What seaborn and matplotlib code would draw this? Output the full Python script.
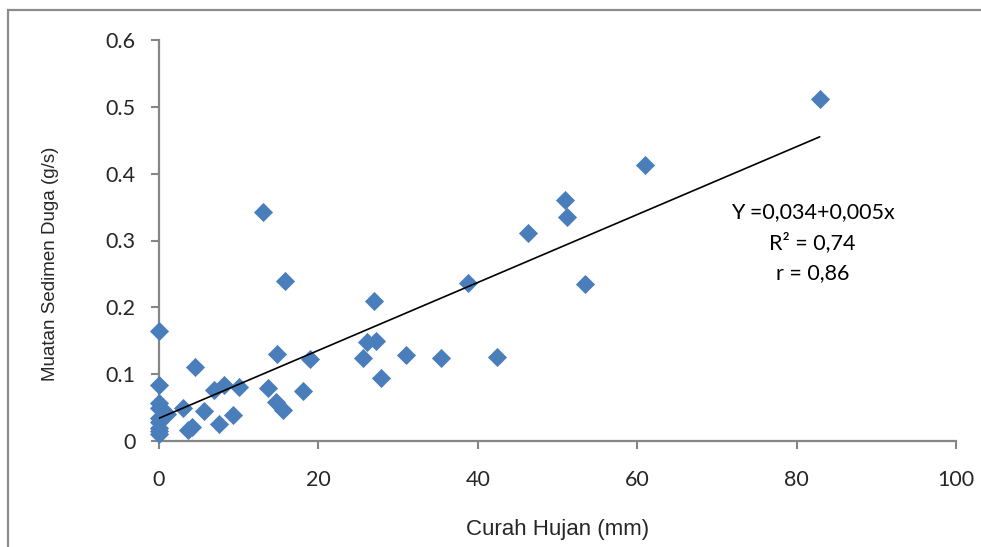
import matplotlib
matplotlib.use("Agg")
import matplotlib.pyplot as plt
import matplotlib.patches as mpatches
import numpy as np
import pandas as pd
import seaborn as sns

# Data
curah_hujan = [0, 0, 0, 0, 0.5, 1.0, 0, 0, 0, 0, 0,
               3.0, 3.6, 4.2, 4.5, 5.6, 6.9, 8.1, 7.5, 9.3, 10.0,
               13.0, 13.7, 14.7, 14.8, 15.6, 15.8, 18.1, 18.9,
               25.6, 26.1, 27.2, 27.0, 27.9, 31.0, 35.4, 38.8, 42.4,
               46.3, 50.9, 51.2, 53.5, 61.0, 82.9]
muatan_sedimen = [0.164, 0.084, 0.057, 0.050, 0.045, 0.040, 0.034, 0.028, 0.020, 0.015, 0.010,
                  0.049, 0.016, 0.021, 0.110, 0.045, 0.077, 0.084, 0.025, 0.039, 0.081,
                  0.343, 0.080, 0.058, 0.130, 0.046, 0.239, 0.075, 0.123,
                  0.124, 0.148, 0.150, 0.209, 0.094, 0.129, 0.124, 0.236, 0.126,
                  0.311, 0.361, 0.335, 0.235, 0.413, 0.512]

# Trend line as displayed
intercept = 0.034
slope = 0.00508
annotation_lines = ["Y =0,034+0,005x", "R\u00b2 = 0,74", "r = 0,86"]

x_ticks = [0, 20, 40, 60, 80, 100]
y_ticks = [0, 0.1, 0.2, 0.3, 0.4, 0.5, 0.6]
y_ticklabels = ["0", "0.1", "0.2", "0.3", "0.4", "0.5", "0.6"]

df = pd.DataFrame({"Curah Hujan (mm)": curah_hujan,
                   "Muatan Sedimen Duga (g/s)": muatan_sedimen})

sns.set_style("white")
plt.rcParams["font.family"] = ["Lato", "DejaVu Sans"]

fig = plt.figure(figsize=(9.81, 5.47), dpi=100)
ax = fig.add_axes([159 / 981, 1 - 441 / 547, (956 - 159) / 981, (441 - 40) / 547])

sns.scatterplot(data=df, x="Curah Hujan (mm)", y="Muatan Sedimen Duga (g/s)",
                marker="D", s=95, color="#4A7EBB", linewidth=0, ax=ax,
                zorder=3, clip_on=False)

xl = np.array([0, max(curah_hujan)])
ax.plot(xl, intercept + slope * xl, color="black", lw=1.2, zorder=4)

for i, t in enumerate(annotation_lines):
    ax.text(82.0, 0.343 - i * 0.0462, t, ha="center", va="center",
            fontsize=15.5, color="black", zorder=5)

ax.set_xlim(0, 100)
ax.set_ylim(0, 0.6)
ax.set_xticks(x_ticks)
ax.set_xticklabels([str(v) for v in x_ticks])
ax.set_yticks(y_ticks)
ax.set_yticklabels(y_ticklabels)
ax.tick_params(axis="x", direction="out", length=6, width=1.5, color="#868686",
               pad=15, labelsize=15.5)
ax.tick_params(axis="y", direction="out", length=6, width=1.5, color="#868686",
               pad=11, labelsize=15.5)
ax.tick_params(bottom=True, left=True)

for s in ["top", "right"]:
    ax.spines[s].set_visible(False)
for s in ["left", "bottom"]:
    ax.spines[s].set_color("#868686")
    ax.spines[s].set_linewidth(1.6)

ax.set_xlabel("Curah Hujan (mm)", fontsize=16, family=["Liberation Sans", "DejaVu Sans"])
ax.set_ylabel("Muatan Sedimen Duga (g/s)", fontsize=13.5, family=["Liberation Sans", "DejaVu Sans"])
ax.xaxis.set_label_coords(0.5, -0.195)
ax.yaxis.set_label_coords(-0.126, 0.441)

# outer chart border
fig.patches.append(mpatches.Rectangle((8 / 981, -0.05), 1.2, 1 - 10 / 547 + 0.05,
                                      transform=fig.transFigure, fill=False,
                                      edgecolor="#8c8c8c", linewidth=1.6))

fig.savefig("out.png", dpi=100)
